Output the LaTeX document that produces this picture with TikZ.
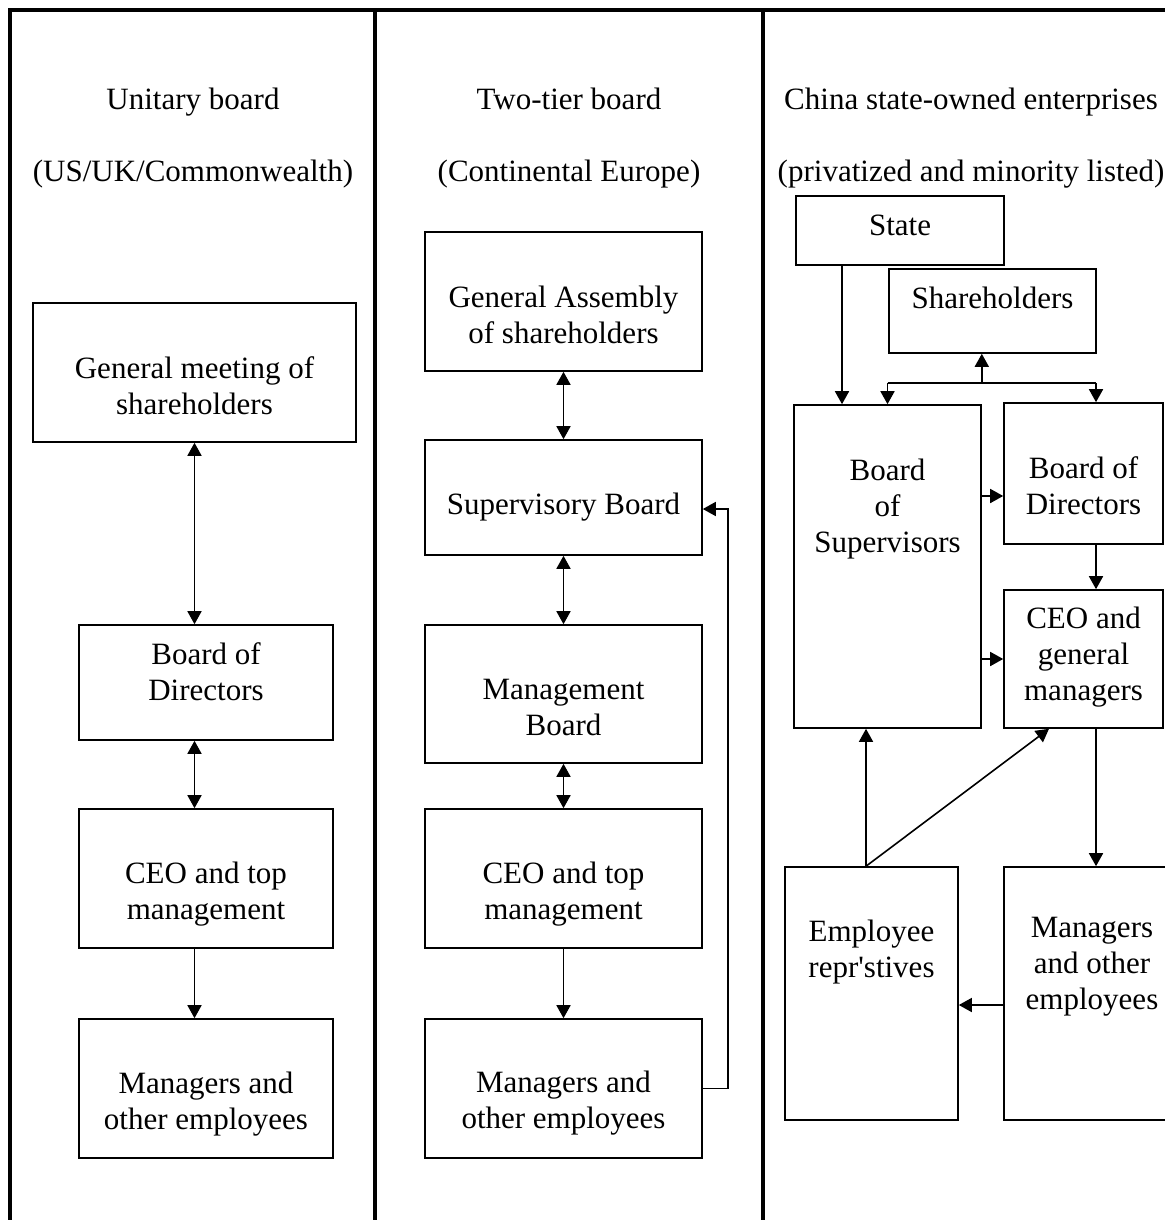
\documentclass[tikz,border=0pt]{standalone}
\usepackage{fontspec}
\setmainfont{Liberation Serif}
\usetikzlibrary{arrows.meta,positioning}
\tikzset{
	box/.style={draw,line width=0.8pt,inner sep=0pt},
	txt/.style={align=center,inner sep=0pt,font=\fontsize{15.5}{18}\selectfont},
	arr/.style={line width=0.8pt,-{Triangle[length=6.5pt,width=7pt]}},
	dbl/.style={line width=0.8pt,{Triangle[length=6.5pt,width=7pt]}-{Triangle[length=6.5pt,width=7pt]}},
	frame/.style={line width=1.6pt}
}
\begin{document}
\begin{tikzpicture}[x=0.5pt,y=-0.5pt]
		\useasboundingbox (0,0) rectangle (1165,1220);
		%
		\draw[frame] (10,1230) -- (10,10) -- (1175,10);
		\draw[frame] (375,10) -- (375,1230);
		\draw[frame] (763,10) -- (763,1230);
		%
		\node[txt,anchor=base] (hu) at (193,110) {Unitary board};
		\node[txt,anchor=base] (hub) at (193,181) {(US/UK/Commonwealth)};
		\node[txt,anchor=base] (ht) at (569,110) {Two-tier board};
		\node[txt,anchor=base] (htb) at (569,181) {(Continental Europe)};
		\node[txt,anchor=base] (hc) at (971,110) {China state-owned enterprises};
		\node[txt,anchor=base] (hcb) at (971,181) {(privatized and minority listed)};
		%
		% unitary board
		\node[box,minimum width=161.5pt,minimum height=69.5pt] (gm1) at (194.5,372.5) {};
		\node[box,minimum width=127pt,minimum height=57.5pt] (bod1) at (206,682.5) {};
		\node[box,minimum width=127pt,minimum height=69.5pt] (ceo1) at (206,878.5) {};
		\node[box,minimum width=127pt,minimum height=69.5pt] (mgr1) at (206,1088.5) {};
		\node[txt] (tgm1) at ([yshift=-6.5pt]gm1) {General meeting of\\shareholders};
		\node[txt] (tbod1) at ([yshift=5.5pt]bod1) {Board of\\Directors};
		\node[txt] (tceo1) at ([yshift=-8pt]ceo1) {CEO and top\\management};
		\node[txt] (tmgr1) at ([yshift=-8pt]mgr1) {Managers and\\other employees};
		\draw[dbl] (gm1.south) -- (gm1.south |- bod1.north);
		\draw[dbl] (gm1.south |- bod1.south) -- (gm1.south |- ceo1.north);
		\draw[arr] (gm1.south |- ceo1.south) -- (gm1.south |- mgr1.north);
		%
		% two-tier board
		\node[box,minimum width=138.5pt,minimum height=69.5pt] (ga) at (563.5,301.5) {};
		\node[box,minimum width=138.5pt,minimum height=57.5pt] (sb) at (563.5,497.5) {};
		\node[box,minimum width=138.5pt,minimum height=69pt] (mb) at (563.5,694) {};
		\node[box,minimum width=138.5pt,minimum height=69.5pt] (ceo2) at (563.5,878.5) {};
		\node[box,minimum width=138.5pt,minimum height=69.5pt] (mgr2) at (563.5,1088.5) {};
		\node[txt] (tga) at ([yshift=-6.5pt]ga) {General Assembly\\of shareholders};
		\node[txt] (tsb) at ([yshift=-5pt]sb) {Supervisory Board};
		\node[txt] (tmb) at ([yshift=-6.5pt]mb) {Management\\Board};
		\node[txt] (tceo2) at ([yshift=-8pt]ceo2) {CEO and top\\management};
		\node[txt] (tmgr2) at ([yshift=-7.5pt]mgr2) {Managers and\\other employees};
		\draw[dbl] (ga) -- (sb);
		\draw[dbl] (sb) -- (mb);
		\draw[dbl] (mb) -- (ceo2);
		\draw[arr] (ceo2) -- (mgr2);
		\coordinate (sbin) at ([yshift=-5.75pt]sb.east);
		\draw[arr] (mgr2.east) -- ++(25,0) |- (sbin);   % feedback to the supervisors
		%
		% china SOEs
		\node[box,minimum width=104pt,minimum height=34.5pt] (state) at (900,230.5) {};
		\node[txt] (tstate) at ([yshift=2.5pt]state) {State};
		\node[box,minimum width=103.5pt,minimum height=42pt] (sh) at (992.5,311) {};
		\node[txt,below=9pt of sh.north] (tsh) {Shareholders};
		\node[box,minimum width=93.5pt,minimum height=161.5pt] (bos) at (887.5,566.5) {};
		\node[txt,below=27pt of bos.north] (tbos) {Board\\of\\Supervisors};
		\node[box,minimum width=79.5pt,minimum height=70.5pt] (bod3) at (1083.5,473.5) {};
		\node[txt] (tbod3) at ([yshift=-6pt]bod3) {Board of\\Directors};
		\node[box,minimum width=79.5pt,minimum height=69pt] (ceo3) at (1083.5,659) {};
		\node[txt] (tceo3) at ([yshift=1pt]ceo3) {CEO and\\general\\managers};
		\node[box,minimum width=86.5pt,minimum height=126.5pt] (emp) at (871.5,993.5) {};
		\node[txt,below=26.5pt of emp.north] (temp) {Employee\\repr\textquotesingle stives};
		\node[box,minimum width=88pt,minimum height=126.5pt] (mgr3) at (1092,993.5) {};
		\node[txt,below=25.5pt of mgr3.north] (tmgr3) {Managers\\and other\\employees};
		%
		\coordinate (stout) at ([xshift=-29pt]state.south);
		\draw[arr] (stout) -- (stout |- bos.north);
		\coordinate (jy) at ([yshift=-14.5pt]sh.south);
		\coordinate (rx) at ([xshift=6.25pt]bod3.south);
		\draw[line width=0.8pt] (bos.north |- jy) -- (rx |- jy);
		\draw[arr] (bos.east |- jy) -- (bos.east |- sh.south);
		\draw[arr] (bos.north |- jy) -- (bos.north);
		\draw[arr] (rx |- jy) -- (rx |- bod3.north);
		\coordinate (bdin) at ([yshift=-11.25pt]bod3.west);
		\draw[arr] (bos.east |- bdin) -- (bdin);
		\draw[arr] (bos.east |- ceo3.west) -- (ceo3.west);
		\draw[arr] (rx) -- (rx |- ceo3.north);
		\draw[arr] (rx |- ceo3.south) -- (rx |- mgr3.north);
		\coordinate (mgout) at ([yshift=-5.75pt]mgr3.west);
		\draw[arr] (mgout) -- (mgout -| emp.east);
		\coordinate (eout) at ([xshift=-2.75pt]emp.north);
		\draw[arr] (eout) -- (eout |- bos.south);
		\coordinate (cin) at ([xshift=-17.25pt]ceo3.south);
		\draw[arr] (eout) -- (cin);
\end{tikzpicture}
\end{document}
